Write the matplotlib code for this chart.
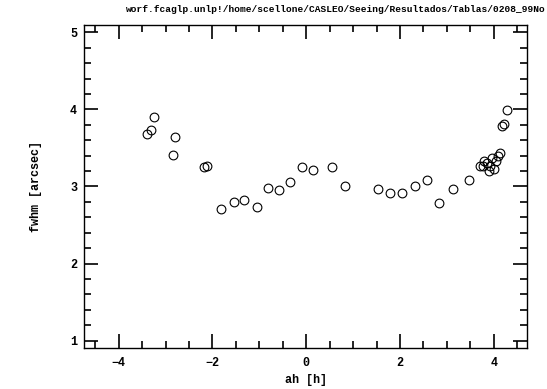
import matplotlib
matplotlib.use('Agg')
import matplotlib.pyplot as plt
from matplotlib.ticker import MultipleLocator

# hour angle [h] and seeing fwhm [arcsec]
ah = [-3.39, -3.32, -3.25, -2.79, -2.85, -2.18, -2.12, -1.81, -1.54, -1.32,
      -1.06, -0.81, -0.58, -0.35, -0.10, 0.15, 0.54, 0.83, 1.52, 1.78,
      2.04, 2.32, 2.57, 2.84, 3.13, 3.48, 3.71, 3.76, 3.80, 3.86,
      3.89, 3.92, 3.96, 4.01, 4.05, 4.08, 4.14, 4.18, 4.22, 4.28]
fwhm = [3.68, 3.73, 3.90, 3.64, 3.41, 3.25, 3.26, 2.71, 2.80, 2.82,
        2.73, 2.98, 2.96, 3.06, 3.25, 3.22, 3.25, 3.00, 2.97, 2.92,
        2.92, 3.01, 3.08, 2.79, 2.97, 3.09, 3.27, 3.27, 3.33, 3.31,
        3.20, 3.27, 3.37, 3.23, 3.33, 3.39, 3.44, 3.79, 3.81, 3.99]

title = 'worf.fcaglp.unlp!/home/scellone/CASLEO/Seeing/Resultados/Tablas/0208_99No'

plt.rcParams['font.family'] = ['Liberation Mono', 'DejaVu Sans Mono']
plt.rcParams['font.weight'] = 'bold'

fig = plt.figure(figsize=(5.47, 3.89), dpi=100)
ax = fig.add_axes([0.1536, 0.1046, 0.81, 0.832])

ax.plot(ah, fwhm, 'o', ms=6.3, mfc='none', mec='k', mew=0.8)

ax.set_xlim(-4.74, 4.71)
ax.set_ylim(0.9, 5.1)
ax.xaxis.set_major_locator(MultipleLocator(2))
ax.xaxis.set_minor_locator(MultipleLocator(0.5))
ax.yaxis.set_major_locator(MultipleLocator(1))
ax.yaxis.set_minor_locator(MultipleLocator(0.2))
ax.tick_params(which='both', direction='in', top=True, right=True,
               labelsize=8.5, width=1.2)
ax.tick_params(axis='x', pad=6)
ax.tick_params(axis='y', pad=5)
ax.tick_params(which='major', length=10)
ax.tick_params(which='minor', length=5)
for s in ax.spines.values():
    s.set_linewidth(1.0)
for lab in ax.get_xticklabels() + ax.get_yticklabels():
    lab.set_fontweight('bold')

ax.set_xlabel('ah [h]', fontsize=8.5, fontweight='bold', labelpad=4)
ax.set_ylabel('fwhm [arcsec]', fontsize=8.5, fontweight='bold', labelpad=20)
fig.text(0.997, 0.975, title, ha='right', va='center', fontsize=6.8,
         fontweight='bold')

fig.savefig('out.png', dpi=100)
